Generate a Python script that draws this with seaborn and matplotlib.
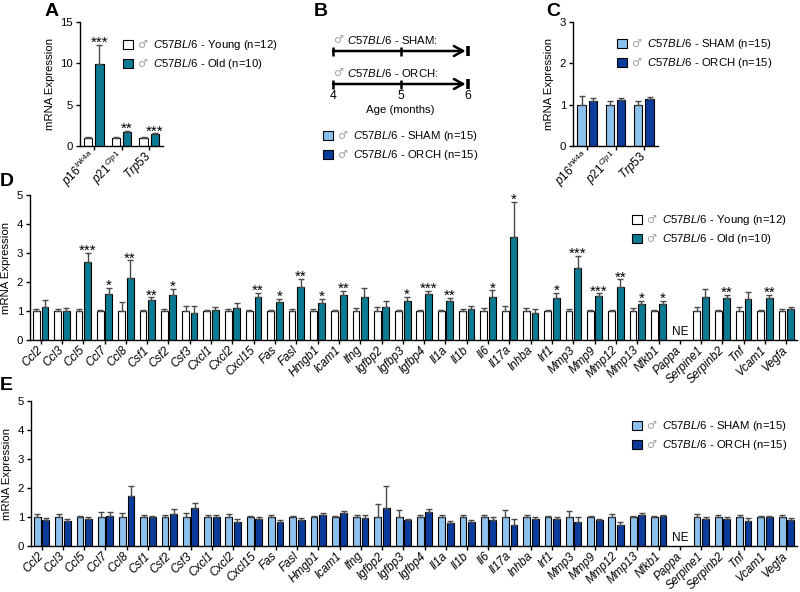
import numpy as np
import pandas as pd
import matplotlib
matplotlib.use("Agg")
import matplotlib.pyplot as plt
import seaborn as sns
from matplotlib.patches import Patch

sns.set_theme(style="ticks")
plt.rcParams["font.family"] = ["Liberation Sans", "DejaVu Sans"]
plt.rcParams.update({
    "mathtext.fontset": "custom",
    "mathtext.rm": "Liberation Sans",
    "mathtext.it": "Liberation Sans:italic",
    "mathtext.bf": "Liberation Sans:bold",
    "axes.linewidth": 1.0,
    "axes.edgecolor": "black",
    "xtick.color": "black",
    "ytick.color": "black",
    "text.color": "black",
    "axes.labelcolor": "black",
})

W, H = 800, 592

# ---------------- data ----------------
senes_genes = [r"$\mathit{p16}^{\mathit{Ink4a}}$", r"$\mathit{p21}^{\mathit{Cip1}}$", r"$\mathit{Trp53}$"]
a_young_mean = [1.0, 1.0, 1.0]
a_young_sem = [0.05, 0.04, 0.03]
a_old_mean = [9.9, 1.65, 1.45]
a_old_sem = [2.3, 0.17, 0.07]
a_sig = ["***", "**", "***"]

c_sham_mean = [1.0, 1.0, 1.0]
c_sham_sem = [0.20, 0.08, 0.10]
c_orch_mean = [1.08, 1.11, 1.13]
c_orch_sem = [0.09, 0.04, 0.06]

genes = ["Ccl2", "Ccl3", "Ccl5", "Ccl7", "Ccl8", "Csf1", "Csf2", "Csf3", "Cxcl1", "Cxcl2",
         "Cxcl15", "Fas", "Fasl", "Hmgb1", "Icam1", "Ifng", "Igfbp2", "Igfbp3", "Igfbp4", "Il1a",
         "Il1b", "Il6", "Il17a", "Inhba", "Irf1", "Mmp3", "Mmp9", "Mmp12", "Mmp13", "Nfkb1",
         "Pappa", "Serpine1", "Serpinb2", "Tnf", "Vcam1", "Vegfa"]
nan = np.nan
d_young_mean = [1.0] * 30 + [nan] + [1.0] * 5
d_young_sem = [0.08, 0.07, 0.08, 0.05, 0.30, 0.02, 0.08, 0.17, 0.05, 0.08,
               0.05, 0.05, 0.08, 0.08, 0.05, 0.12, 0.13, 0.05, 0.05, 0.03,
               0.07, 0.10, 0.18, 0.10, 0.03, 0.08, 0.03, 0.02, 0.10, 0.02,
               nan, 0.15, 0.02, 0.13, 0.02, 0.07]
d_old_mean = [1.15, 1.0, 2.68, 1.57, 2.13, 1.38, 1.55, 0.93, 1.05, 1.12,
              1.50, 1.30, 1.84, 1.29, 1.55, 1.50, 1.13, 1.34, 1.59, 1.34,
              1.06, 1.48, 3.54, 0.94, 1.44, 2.50, 1.52, 1.83, 1.23, 1.24,
              nan, 1.48, 1.44, 1.41, 1.44, 1.06]
d_old_sem = [0.22, 0.12, 0.32, 0.23, 0.62, 0.09, 0.22, 0.24, 0.10, 0.16,
             0.13, 0.12, 0.26, 0.14, 0.15, 0.30, 0.22, 0.14, 0.11, 0.12,
             0.11, 0.23, 1.23, 0.12, 0.19, 0.40, 0.09, 0.26, 0.11, 0.12,
             nan, 0.29, 0.11, 0.26, 0.11, 0.08]
d_sig = ["", "", "***", "*", "**", "**", "*", "", "", "",
         "**", "*", "**", "*", "**", "", "", "*", "***", "**",
         "", "*", "*", "", "*", "***", "***", "**", "*", "*",
         "", "", "**", "", "**", ""]

e_sham_mean = [1.0] * 30 + [nan] + [1.0] * 5
e_sham_sem = [0.09, 0.10, 0.04, 0.17, 0.15, 0.07, 0.07, 0.15, 0.07, 0.10,
              0.04, 0.07, 0.03, 0.02, 0.05, 0.07, 0.45, 0.23, 0.07, 0.07,
              0.07, 0.07, 0.25, 0.07, 0.05, 0.22, 0.04, 0.12, 0.04, 0.05,
              nan, 0.10, 0.08, 0.08, 0.02, 0.06]
e_orch_mean = [0.89, 0.85, 0.92, 1.02, 1.74, 0.99, 1.09, 1.30, 0.99, 0.83,
               0.92, 0.84, 0.89, 1.08, 1.13, 0.97, 1.30, 0.90, 1.18, 0.78,
               0.82, 0.89, 0.71, 0.92, 0.94, 0.84, 0.90, 0.71, 1.06, 1.03,
               nan, 0.92, 0.94, 0.86, 1.00, 0.91]
e_orch_sem = [0.09, 0.09, 0.08, 0.16, 0.33, 0.04, 0.20, 0.20, 0.08, 0.11,
              0.08, 0.07, 0.08, 0.06, 0.08, 0.10, 0.76, 0.04, 0.08, 0.07,
              0.08, 0.10, 0.23, 0.07, 0.06, 0.17, 0.04, 0.13, 0.09, 0.03,
              nan, 0.07, 0.05, 0.12, 0.05, 0.07]

timeline_groups = ["SHAM", "ORCH"]
timeline_months = [4, 5, 6]

lab_young = r"$\mathit{C57BL/6}$ - Young (n=12)"
lab_old = r"$\mathit{C57BL/6}$ - Old (n=10)"
lab_sham = r"$\mathit{C57BL/6}$ - SHAM (n=15)"
lab_orch = r"$\mathit{C57BL/6}$ - ORCH (n=15)"

col_young, col_old = "#FFFFFF", "#0C7A92"
col_sham, col_orch = "#8EC2EE", "#0B3C9C"

FS = 8.2
ERRC = "#4a4a4a"
MALE_C = "#a0a0a0"


def axrect(l, r, t, b):
    return [l / W, 1 - b / H, (r - l) / W, (b - t) / H]


fig = plt.figure(figsize=(8, 5.92), dpi=100)


def bar_panel(ax, cats, names, means, sems, colors, sig=None, width=0.8, gap=0.2,
              ylim=(0, 5), yticks=None, italic=True):
    n = len(cats)
    df = pd.DataFrame({
        "gene": list(range(n)) * 2,
        "group": [names[0]] * n + [names[1]] * n,
        "value": list(means[0]) + list(means[1]),
    })
    sns.barplot(data=df, x="gene", y="value", hue="group", order=list(range(n)),
                hue_order=names, palette=dict(zip(names, colors)), width=width, gap=gap,
                edgecolor="black", linewidth=0.8, errorbar=None, legend=False,
                saturation=1, ax=ax)
    for bar in ax.patches:
        h = bar.get_height()
        if h is None or not np.isfinite(h):
            continue
        cx = bar.get_x() + bar.get_width() / 2
        idx = int(round(cx))
        g = 0 if cx < idx else 1
        s = sems[g][idx]
        if not np.isfinite(s):
            continue
        ax.errorbar(cx, h, yerr=[[0], [s]], fmt="none", ecolor=ERRC, elinewidth=1.0,
                    capsize=2, capthick=1.0, zorder=1)
        if sig is not None and g == 1 and sig[idx]:
            ax.annotate(sig[idx], xy=(cx, h + s), xytext=(0, -1.5), textcoords="offset points",
                        ha="center", va="baseline", fontsize=11)
    for i in range(n):
        if not np.isfinite(means[0][i]) and not np.isfinite(means[1][i]):
            ax.text(i, 0.07 * (ylim[1] / 5), "NE", ha="center", va="bottom", fontsize=FS + 0.3)
    ax.set_xlim(-0.5, n - 0.5)
    ax.set_ylim(*ylim)
    if yticks is not None:
        ax.set_yticks(yticks)
    ax.set_xticks(range(n))
    ax.set_xticklabels(cats, rotation=45, ha="right", va="center", rotation_mode="anchor",
                       fontstyle="italic" if italic else "normal", fontsize=FS + 0.3)
    ax.set_xlabel("")
    ax.set_ylabel("mRNA Expression", fontsize=FS)
    ax.tick_params(axis="both", length=3, width=1, labelsize=FS, pad=2)
    ax.tick_params(axis="x", pad=3, labelsize=FS + 0.3)
    sns.despine(ax=ax)


legends = []


def add_legend(x, y, labels, colors):
    handles = [Patch(facecolor=c, edgecolor="black", linewidth=0.8) for c in colors]
    leg = fig.legend(handles, labels, loc="upper left", bbox_to_anchor=(x / W, 1 - y / H),
                     frameon=False, borderpad=0, borderaxespad=0, handlelength=0.85,
                     handleheight=0.85, handletextpad=1.75, labelspacing=0.45, fontsize=FS)
    legends.append(leg)
    return leg


# ---------- Panel A ----------
axA = fig.add_axes(axrect(80, 163, 22, 146))
bar_panel(axA, senes_genes, ["Young", "Old"], [a_young_mean, a_old_mean],
          [a_young_sem, a_old_sem], [col_young, col_old], sig=a_sig, width=0.8, gap=0.25,
          ylim=(0, 15), yticks=[0, 5, 10, 15])

# ---------- Panel C ----------
axC = fig.add_axes(axrect(573, 658, 22, 146))
bar_panel(axC, senes_genes, ["SHAM", "ORCH"], [c_sham_mean, c_orch_mean],
          [c_sham_sem, c_orch_sem], [col_sham, col_orch], width=0.8, gap=0.25,
          ylim=(0, 3), yticks=[0, 1, 2, 3])

# ---------- Panel D ----------
axD = fig.add_axes(axrect(30, 797, 195, 340))
bar_panel(axD, genes, ["Young", "Old"], [d_young_mean, d_old_mean],
          [d_young_sem, d_old_sem], [col_young, col_old], sig=d_sig,
          ylim=(0, 5), yticks=[0, 1, 2, 3, 4, 5])

# ---------- Panel E ----------
axE = fig.add_axes(axrect(31, 797, 401, 546))
bar_panel(axE, genes, ["SHAM", "ORCH"], [e_sham_mean, e_orch_mean],
          [e_sham_sem, e_orch_sem], [col_sham, col_orch],
          ylim=(0, 5), yticks=[0, 1, 2, 3, 4, 5])

# ---------- Panel B (timeline) ----------
axB = fig.add_axes(axrect(333, 468, 0, 130))
axB.set_xlim(timeline_months[0], timeline_months[-1])
axB.set_ylim(130, 0)
axB.axis("off")
for k, grp in enumerate(timeline_groups):
    ly = 51 + 33 * k
    ty = ly - 11
    axB.text(timeline_months[0], ty, "\u2642", ha="left", va="center", color=MALE_C,
             fontsize=8, family=["DejaVu Sans"], clip_on=False)
    axB.annotate(r"$\mathit{C57BL/6}$ - " + grp + ":", xy=(timeline_months[0], ty),
                 xytext=(10, 0), textcoords="offset points", ha="left", va="center",
                 fontsize=FS, annotation_clip=False)
    axB.annotate("", xy=(timeline_months[-1] - 0.035, ly), xytext=(timeline_months[0], ly),
                 arrowprops=dict(arrowstyle="->,head_length=0.55,head_width=0.3", lw=1.8,
                                 color="black", shrinkA=0, shrinkB=0), annotation_clip=False)
    for m in timeline_months[:-1]:
        axB.plot([m, m], [ly - 4.5, ly + 4.5], color="black", lw=1.8, clip_on=False,
                 solid_capstyle="butt")
    axB.plot([timeline_months[-1], timeline_months[-1]], [ly - 5, ly + 5], color="black",
             lw=2.6, clip_on=False, solid_capstyle="butt")
for m in timeline_months:
    axB.text(m, 96, str(m), ha="center", va="center", fontsize=FS + 0.5, clip_on=False)
axB.text(np.mean(timeline_months), 110, "Age (months)", ha="center", va="center",
         fontsize=FS, clip_on=False)

# ---------- Legends ----------
add_legend(123, 38, [lab_young, lab_old], [col_young, col_old])
add_legend(323, 129, [lab_sham, lab_orch], [col_sham, col_orch])
add_legend(617, 37, [lab_sham, lab_orch], [col_sham, col_orch])
add_legend(632, 213, [lab_young, lab_old], [col_young, col_old])
add_legend(632, 419, [lab_sham, lab_orch], [col_sham, col_orch])

# ---------- Panel letters ----------
for letter, (px, py) in zip("ABCDE", [(45, 3), (314, 3), (546, 3), (0, 173), (0, 377)]):
    fig.text(px / W, 1 - py / H, letter, fontsize=14, fontweight="bold", ha="left", va="top")

# male symbols in front of legend labels (placed after layout is known)
fig.canvas.draw()
renderer = fig.canvas.get_renderer()
for leg in legends:
    for t in leg.get_texts():
        bb = t.get_window_extent(renderer)
        fig.text((bb.x0 - 5) / W, (bb.y0 + bb.y1) / 2 / H, "\u2642", ha="right", va="center",
                 color=MALE_C, fontsize=8, family=["DejaVu Sans"])

fig.savefig("out.png", dpi=100)
